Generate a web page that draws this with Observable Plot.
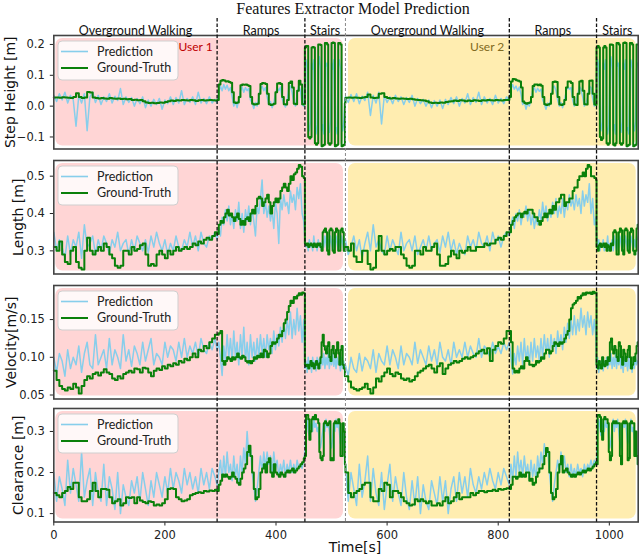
<!DOCTYPE html>
<html><head><meta charset="utf-8">
<script src="https://cdn.jsdelivr.net/npm/d3@7"></script>
<script src="https://cdn.jsdelivr.net/npm/@observablehq/plot@0.6"></script>
<style>
body{margin:0;background:#fff;}
#chart{position:relative;width:640px;height:555px;overflow:hidden;background:#fff;}
#chart svg{position:absolute;left:0;}
#title{position:absolute;top:0px;left:353px;transform:translateX(-50%);white-space:nowrap;font-family:"Liberation Serif",serif;font-size:16px;line-height:18px;color:#111;}
</style></head><body><div id="chart"><div id="title">Features Extractor Model Prediction</div></div>
<script>
// segments: walking, ramps, stairs for user 1 and user 2 (sample start time, sample spacing in s)
const segStart = [0, 294, 452, 525, 820, 977];
const segStep = [5, 3, 2, 5, 3, 2];
const sections = ["Overground Walking", "Ramps", "Stairs", "Overground Walking", "Ramps", "Stairs"];
const sectionEnd = [294, 452, 525, 820, 977, 1052];
const users = ["User 1", "User 2"];
const userStart = [0, 525];
const userEnd = [525, 1052];
const xTicks = [0, 200, 400, 600, 800, 1000];

const stepGT = [
[.028,.028,.027,.029,.028,.027,.026,.03,.042,.03,.026,.028,.046,.044,.028,.026,.025,.026,.025,.024,.026,.025,.024,.025,.023,.024,.022,.023,.02,.021,.019,.02,.016,.012,.01,.011,.009,.01,.012,.011,.013,.016,.018,.017,.019,.018,.02,.019,.018,.02,.019,.017,.019,.02,.018,.019,.02,.019,.018],
[.02,.07,.082,.085,.083,.08,.081,.078,.076,.045,.012,.01,.012,.03,.068,.07,.069,.07,.068,.065,.03,.008,.005,.006,.008,.04,.072,.075,.074,.072,.04,.006,.004,.005,.008,.045,.073,.075,.072,.03,.006,.005,.02,.075,.08,.06,.008,.006,.05,.082,.07,.006,.005],
[.19,.195,.195,-.1,-.105,-.1,.19,.192,.19,-.12,-.125,-.12,.2,.2,.198,-.13,-.128,-.125,.205,.205,.2,-.12,-.125,-.12,.205,.206,.205,-.13,-.128,-.125,.205,.205,.2,-.13,-.128,-.125,.01],
[.027,.028,.027,.028,.027,.026,.028,.03,.038,.028,.026,.027,.04,.042,.03,.026,.025,.026,.025,.024,.025,.024,.023,.024,.022,.021,.02,.019,.018,.016,.012,.01,.011,.01,.012,.011,.013,.015,.016,.018,.017,.019,.018,.016,.018,.017,.019,.018,.017,.019,.018,.02,.019,.018,.02,.019,.018,.02,.02],
[.03,.08,.088,.087,.084,.082,.08,.06,.015,.01,.008,.01,.012,.03,.065,.07,.07,.068,.07,.066,.03,.006,.004,.005,.008,.04,.078,.08,.078,.03,.005,.004,.006,.02,.06,.08,.08,.075,.03,.005,.004,.04,.08,.082,.05,.006,.005,.04,.082,.083,.04,.005,.004],
[.19,.195,.19,-.1,-.11,-.105,.19,.195,.19,-.12,-.125,-.12,.2,.2,.198,-.125,-.128,-.12,.205,.205,.2,-.12,-.125,-.12,.205,.206,.205,-.13,-.128,-.125,.205,.205,.2,-.13,-.128,-.125,.2,.2]
];
const stepPred = [
[.035,.015,.04,.02,.045,.01,.035,.02,-.065,.035,.01,.04,-.08,.03,.045,.012,.035,.005,.03,.015,.04,.01,.032,.018,.057,.005,.03,.012,.028,0,.025,.008,.03,-.005,.02,0,.022,.005,.025,-.01,.02,.008,.03,.005,.028,.01,.05,.005,.025,.012,.03,.005,.045,.01,.025,.008,.03,.01,.022],
[.01,.045,.065,.05,.07,.055,.068,.05,.06,.03,0,.015,-.005,.02,.05,.062,.045,.06,.05,.058,.02,.01,-.008,.012,0,.03,.055,.065,.05,.06,.03,.005,.015,-.005,.01,.04,.06,.05,.062,.025,.008,-.003,.015,.06,.065,.045,.01,0,.04,.068,.05,.005,0],
[.1,.15,.13,-.06,-.08,-.05,.14,.12,.15,-.07,-.09,-.06,.13,.16,.12,-.08,-.06,-.09,.15,.13,.14,-.07,-.085,-.05,.14,.12,.15,-.08,-.07,-.09,.13,.15,.12,-.06,-.08,-.05,.02],
[.03,.012,.038,.015,.04,.008,.032,.018,.045,-.03,.035,.01,.045,-.058,.035,.012,.03,.008,.035,.015,.03,.005,.028,.012,.035,0,.025,.008,.022,0,.02,-.005,.018,0,.02,-.008,.022,.005,.028,.008,.03,0,.025,.01,.04,.005,.028,.012,.045,.005,.03,.01,.025,.005,.035,.01,.025,.008,.03],
[.02,.055,.07,.055,.065,.05,.062,.04,.005,.015,-.01,.01,0,.02,.05,.06,.045,.058,.048,.055,.02,.008,-.01,.01,0,.03,.06,.065,.05,.02,0,.012,-.005,.015,.045,.065,.055,.06,.02,0,.01,.035,.065,.055,.03,0,.01,.03,.065,.06,.025,0,.008],
[.1,.15,.13,-.06,-.08,-.05,.14,.12,.15,-.07,-.09,-.06,.13,.16,.12,-.08,-.06,-.09,.15,.13,.14,-.07,-.085,-.05,.14,.12,.15,-.08,-.07,-.09,.13,.15,.12,-.06,-.08,-.05,.12,.14]
];
const lenGT = [
[.31,.3,.325,.29,.27,.265,.3,.31,.27,.255,.25,.3,.335,.3,.29,.3,.31,.3,.32,.31,.29,.28,.26,.255,.26,.3,.3,.29,.31,.3,.305,.315,.32,.29,.26,.265,.26,.29,.3,.29,.28,.3,.29,.3,.31,.3,.305,.31,.305,.31,.32,.315,.325,.32,.33,.335,.33,.34,.35],
[.345,.37,.38,.375,.39,.4,.41,.395,.4,.39,.38,.39,.4,.385,.37,.38,.37,.385,.39,.38,.4,.41,.4,.42,.44,.445,.44,.42,.43,.44,.45,.43,.4,.42,.43,.44,.43,.44,.46,.47,.48,.47,.46,.48,.5,.49,.505,.51,.52,.53,.525,.5,.495],
[.32,.315,.32,.31,.315,.32,.315,.31,.32,.315,.31,.32,.315,.32,.31,.3,.35,.355,.36,.35,.3,.29,.355,.36,.355,.3,.295,.35,.36,.355,.3,.3,.355,.36,.35,.3,.3],
[.31,.3,.32,.285,.27,.27,.3,.3,.265,.25,.255,.3,.34,.3,.29,.3,.305,.3,.31,.31,.29,.28,.26,.255,.26,.3,.3,.29,.31,.3,.3,.31,.32,.29,.26,.26,.265,.285,.3,.29,.28,.3,.295,.3,.31,.3,.3,.31,.31,.31,.32,.315,.32,.32,.33,.335,.33,.34,.35],
[.35,.37,.38,.39,.395,.4,.4,.39,.4,.405,.4,.41,.41,.41,.4,.39,.39,.38,.37,.38,.39,.4,.39,.4,.41,.4,.42,.41,.43,.43,.44,.45,.45,.42,.43,.43,.44,.44,.46,.47,.47,.49,.5,.5,.51,.5,.52,.53,.525,.5,.5,.495,.49],
[.31,.3,.315,.32,.31,.315,.32,.31,.32,.3,.315,.31,.3,.32,.315,.35,.355,.35,.29,.29,.35,.36,.355,.3,.29,.355,.36,.355,.3,.295,.35,.36,.355,.3,.29,.3,.36,.37]
];
const lenPred = [
[.35,.3,.33,.31,.28,.34,.29,.33,.31,.35,.28,.37,.31,.32,.34,.29,.33,.3,.34,.32,.29,.33,.31,.35,.3,.32,.33,.29,.33,.3,.34,.32,.3,.33,.295,.34,.31,.35,.32,.3,.33,.29,.32,.3,.34,.31,.3,.33,.31,.35,.31,.34,.3,.35,.32,.31,.34,.33,.35],
[.33,.36,.34,.39,.37,.41,.38,.42,.37,.4,.36,.41,.38,.43,.36,.4,.35,.41,.38,.42,.37,.41,.38,.34,.42,.4,.44,.49,.4,.43,.39,.42,.38,.41,.36,.43,.4,.32,.44,.41,.45,.42,.43,.4,.46,.43,.45,.41,.47,.44,.48,.4,.38],
[.33,.31,.32,.3,.33,.31,.32,.3,.34,.31,.32,.3,.33,.31,.32,.3,.33,.31,.34,.32,.3,.33,.31,.34,.32,.3,.33,.31,.34,.32,.3,.33,.31,.34,.32,.3,.33],
[.33,.29,.31,.34,.3,.33,.28,.32,.35,.3,.37,.31,.33,.3,.29,.34,.3,.33,.31,.29,.35,.3,.32,.33,.3,.34,.29,.31,.33,.3,.34,.3,.32,.33,.295,.34,.31,.35,.3,.33,.29,.32,.3,.29,.34,.31,.33,.3,.35,.32,.31,.34,.3,.35,.32,.34,.31,.34,.35],
[.34,.37,.39,.36,.4,.38,.41,.37,.4,.39,.42,.38,.41,.37,.4,.36,.39,.37,.41,.38,.43,.39,.42,.38,.41,.39,.43,.4,.44,.39,.42,.4,.44,.39,.43,.41,.45,.42,.44,.41,.45,.42,.44,.4,.46,.42,.45,.43,.48,.4,.44,.37,.39],
[.34,.31,.33,.3,.32,.31,.33,.3,.32,.31,.34,.3,.32,.31,.33,.3,.34,.32,.3,.33,.31,.34,.32,.3,.33,.31,.34,.32,.3,.33,.31,.34,.32,.3,.33,.31,.34,.33]
];
const velGT = [
[.082,.07,.062,.058,.056,.06,.058,.065,.06,.052,.062,.07,.075,.072,.078,.08,.076,.08,.084,.08,.078,.072,.07,.075,.072,.078,.08,.082,.08,.085,.084,.08,.086,.085,.08,.075,.082,.085,.083,.088,.085,.09,.088,.092,.09,.095,.093,.098,.096,.1,.105,.1,.11,.108,.115,.112,.12,.125,.13],
[.13,.132,.135,.095,.09,.095,.1,.098,.095,.1,.097,.1,.105,.1,.098,.102,.1,.095,.093,.095,.092,.095,.1,.098,.102,.1,.105,.1,.11,.108,.1,.105,.115,.12,.118,.12,.125,.13,.128,.135,.145,.15,.16,.168,.175,.172,.18,.178,.182,.185,.183,.186,.185],
[.09,.088,.09,.085,.09,.095,.088,.092,.085,.09,.095,.09,.085,.092,.1,.12,.13,.115,.11,.105,.115,.12,.1,.095,.11,.115,.105,.1,.11,.12,.105,.09,.11,.115,.09,.085,.075],
[.075,.068,.06,.058,.056,.058,.06,.065,.058,.052,.06,.072,.068,.075,.08,.085,.078,.075,.08,.078,.072,.07,.072,.068,.07,.075,.08,.082,.085,.088,.09,.085,.08,.088,.092,.078,.085,.09,.092,.095,.093,.095,.098,.1,.098,.1,.102,.105,.108,.11,.105,.112,.095,.11,.115,.12,.118,.125,.135],
[.135,.12,.085,.08,.082,.08,.085,.088,.085,.095,.1,.095,.09,.09,.088,.09,.095,.093,.095,.1,.098,.105,.11,.11,.105,.108,.115,.12,.118,.115,.12,.118,.12,.125,.13,.135,.15,.165,.17,.172,.175,.18,.178,.182,.185,.183,.186,.185,.186,.184,.187,.185,.186],
[.09,.085,.095,.09,.085,.1,.09,.088,.095,.09,.1,.095,.12,.125,.11,.105,.115,.11,.1,.095,.12,.115,.1,.09,.11,.105,.095,.1,.11,.115,.1,.085,.09,.1,.095,.105,.115,.12]
];
const velPred = [
[.1,.08,.105,.095,.075,.11,.085,.1,.09,.115,.08,.105,.12,.09,.085,.13,.09,.1,.11,.085,.125,.09,.11,.1,.085,.13,.095,.11,.088,.115,.105,.09,.12,.095,.11,.125,.09,.105,.1,.09,.12,.1,.115,.11,.095,.12,.1,.125,.1,.115,.105,.12,.1,.125,.11,.105,.12,.11,.125],
[.11,.12,.1,.076,.115,.095,.13,.1,.125,.095,.135,.1,.12,.09,.13,.1,.14,.095,.12,.09,.13,.1,.12,.095,.125,.1,.13,.105,.125,.1,.13,.11,.125,.105,.135,.11,.13,.115,.14,.12,.145,.125,.15,.13,.16,.125,.15,.13,.165,.135,.155,.12,.15],
[.085,.095,.08,.1,.085,.095,.08,.1,.088,.095,.082,.1,.09,.098,.085,.1,.09,.105,.085,.1,.09,.105,.085,.1,.09,.105,.088,.1,.085,.1,.09,.095,.082,.1,.085,.095,.08],
[.09,.075,.1,.085,.08,.105,.082,.1,.095,.085,.11,.08,.105,.095,.09,.115,.09,.11,.1,.085,.115,.09,.105,.1,.09,.12,.092,.11,.1,.09,.115,.095,.11,.09,.12,.1,.095,.11,.09,.12,.1,.11,.1,.12,.1,.115,.105,.1,.125,.1,.115,.11,.1,.12,.105,.115,.105,.12,.11],
[.12,.1,.078,.105,.09,.115,.095,.12,.09,.125,.095,.115,.09,.12,.095,.125,.1,.115,.095,.125,.1,.13,.105,.125,.1,.13,.11,.125,.105,.135,.115,.13,.11,.14,.12,.145,.125,.15,.13,.155,.13,.15,.135,.165,.14,.155,.13,.16,.14,.155,.13,.15,.125],
[.085,.1,.08,.095,.085,.1,.082,.095,.088,.1,.085,.095,.09,.105,.085,.1,.088,.105,.085,.1,.09,.105,.085,.095,.08,.1,.088,.095,.082,.1,.085,.095,.08,.095,.085,.1,.09,.095]
];
const clrGT = [
[.15,.145,.14,.15,.155,.165,.16,.175,.175,.14,.13,.13,.135,.155,.175,.155,.14,.16,.16,.158,.14,.125,.13,.135,.12,.125,.14,.138,.14,.125,.14,.132,.128,.125,.13,.128,.12,.122,.12,.125,.135,.16,.162,.16,.14,.135,.13,.132,.135,.145,.148,.15,.152,.15,.155,.154,.156,.155,.158],
[.155,.17,.18,.195,.19,.195,.19,.185,.19,.2,.19,.185,.175,.17,.185,.2,.21,.22,.25,.265,.24,.2,.16,.135,.14,.16,.2,.21,.22,.2,.225,.235,.2,.19,.22,.2,.195,.19,.2,.195,.19,.2,.205,.2,.205,.21,.2,.205,.21,.215,.22,.225,.235],
[.24,.34,.34,.33,.28,.3,.33,.335,.33,.34,.33,.33,.32,.25,.235,.23,.24,.32,.325,.32,.315,.32,.325,.23,.235,.23,.32,.325,.32,.32,.33,.32,.24,.24,.32,.3,.22],
[.2,.15,.14,.15,.155,.16,.17,.175,.175,.14,.13,.13,.16,.155,.175,.17,.14,.155,.155,.15,.14,.13,.125,.12,.122,.135,.13,.135,.13,.125,.13,.12,.12,.125,.12,.13,.14,.125,.13,.14,.15,.135,.14,.14,.14,.15,.145,.15,.155,.155,.152,.155,.155,.158,.155,.16,.158,.16,.162],
[.16,.17,.19,.19,.185,.19,.2,.19,.195,.19,.2,.2,.18,.185,.17,.175,.19,.2,.21,.21,.22,.24,.26,.25,.2,.15,.135,.14,.16,.2,.22,.24,.2,.205,.21,.2,.195,.19,.195,.19,.195,.2,.195,.2,.205,.2,.205,.21,.205,.21,.215,.22,.225],
[.22,.34,.34,.335,.3,.28,.33,.335,.33,.33,.32,.25,.23,.24,.32,.325,.32,.325,.32,.32,.32,.24,.22,.32,.325,.32,.325,.32,.23,.235,.32,.325,.32,.32,.24,.3,.24,.22]
];
const clrPred = [
[.2,.13,.19,.16,.12,.23,.15,.21,.17,.13,.25,.14,.18,.21,.12,.2,.15,.13,.22,.12,.19,.16,.11,.2,.1,.17,.14,.12,.18,.15,.19,.13,.2,.16,.12,.18,.14,.2,.17,.14,.19,.15,.21,.16,.2,.18,.15,.21,.17,.2,.16,.19,.15,.21,.17,.2,.16,.21,.19],
[.17,.2,.23,.18,.24,.19,.25,.2,.22,.18,.24,.19,.22,.17,.24,.2,.26,.22,.3,.24,.26,.2,.17,.13,.16,.2,.24,.2,.25,.21,.25,.22,.24,.2,.25,.21,.23,.19,.22,.2,.23,.19,.22,.2,.23,.2,.22,.2,.23,.21,.22,.21,.23],
[.25,.31,.33,.3,.29,.31,.32,.3,.33,.31,.32,.3,.31,.27,.26,.28,.3,.32,.3,.33,.31,.32,.3,.27,.26,.29,.32,.3,.33,.31,.32,.3,.27,.29,.31,.28,.22],
[.22,.13,.2,.16,.12,.22,.14,.18,.24,.13,.21,.15,.12,.2,.11,.17,.22,.13,.19,.15,.12,.2,.14,.11,.18,.12,.19,.1,.17,.13,.11,.18,.15,.12,.19,.13,.18,.1,.16,.19,.13,.2,.15,.19,.14,.21,.17,.15,.19,.16,.2,.17,.21,.18,.16,.2,.17,.21,.19],
[.17,.22,.18,.24,.19,.25,.2,.23,.19,.24,.2,.22,.18,.23,.19,.22,.18,.24,.2,.25,.22,.27,.24,.26,.2,.16,.13,.17,.2,.23,.2,.25,.21,.24,.2,.22,.19,.22,.19,.21,.19,.22,.2,.21,.19,.22,.2,.22,.21,.23,.21,.23,.22],
[.23,.3,.33,.31,.29,.3,.32,.3,.33,.31,.32,.27,.26,.28,.31,.33,.3,.32,.31,.33,.3,.27,.26,.3,.32,.31,.33,.3,.27,.28,.31,.33,.3,.31,.28,.3,.26,.23]
];

function rows(segs) {
  const out = [];
  segs.forEach((vals, k) => vals.forEach((v, i) => out.push({t: segStart[k] + i * segStep[k], v})));
  return out;
}

const W = 640, ML = 53.3, MR = 2.3, FH = 113.5;
const panels = [
  {label: "Step Height [m]", pred: stepPred, gt: stepGT, domain: [-0.139, 0.229], ticks: [-0.1, 0, 0.1, 0.2], fmt: ".1f", top: 35, lx: 10},
  {label: "Length [m]", pred: lenPred, gt: lenGT, domain: [0.238, 0.542], ticks: [0.3, 0.4, 0.5], fmt: ".1f", top: 160, lx: 18},
  {label: "Velocity[m/s]", pred: velPred, gt: velGT, domain: [0.0447, 0.1952], ticks: [0.05, 0.10, 0.15], fmt: ".2f", top: 285, lx: 11},
  {label: "Clearance [m]", pred: clrPred, gt: clrGT, domain: [0.0796, 0.3559], ticks: [0.1, 0.2, 0.3], fmt: ".1f", top: 408, lx: 18}
];

const chart = document.getElementById("chart");
const font = "DejaVu Sans, sans-serif";
const lfont = "Lato, 'Open Sans', sans-serif";

panels.forEach((p, pi) => {
  const last = pi === panels.length - 1;
  const mt = 2, mb = last ? 34 : 2;
  const marks = [
    Plot.rect([users[0]], {x1: () => userStart[0], x2: () => userEnd[0], fill: "#ffd5d5", insetLeft: 2, insetRight: 2, insetTop: 3, insetBottom: 3, rx: 7}),
    Plot.rect([users[1]], {x1: () => userStart[1], x2: () => userEnd[1], fill: "#ffedb0", insetLeft: 3, insetRight: 2, insetTop: 3, insetBottom: 3, rx: 7}),
    Plot.line(rows(p.pred), {x: "t", y: "v", stroke: "#87ceeb", strokeWidth: 1.5}),
    Plot.line(rows(p.gt), {x: "t", y: "v", curve: "step-after", stroke: "#0a800a", strokeWidth: 2}),
    Plot.frame({stroke: "#444", strokeWidth: 1.6}),
    Plot.text([p.label], {frameAnchor: "left", dx: p.lx - ML, rotate: -90, textAnchor: "middle", lineAnchor: "middle", fontSize: 14, fill: "#111"})
  ];
  if (pi === 0) {
    marks.push(Plot.text([users[0]], {x: () => sectionEnd[0], frameAnchor: "top", dy: 12, dx: -4.5, textAnchor: "end", lineAnchor: "middle", fill: "#c00000", fontFamily: lfont, fontSize: 12}));
    marks.push(Plot.text([users[1]], {x: () => sectionEnd[3], frameAnchor: "top", dy: 12, dx: -5, textAnchor: "end", lineAnchor: "middle", fill: "#7f6a20", fontFamily: lfont, fontSize: 12}));
  }
  if (last) {
    marks.push(Plot.text(["Time[s]"], {frameAnchor: "bottom", dy: 25.5, dx: 9, lineAnchor: "middle", fontSize: 14, fill: "#111"}));
  }
  const svg = Plot.plot({
    width: W, height: FH + mt + mb,
    marginLeft: ML, marginRight: MR, marginTop: mt, marginBottom: mb,
    style: {background: "transparent", fontFamily: font, fontSize: "11.5px", color: "#222", overflow: "visible"},
    x: last ? {domain: [0, 1052], ticks: xTicks, tickFormat: "d", tickSize: 4, label: null} : {domain: [0, 1052], axis: null},
    y: {domain: p.domain, ticks: p.ticks, tickFormat: p.fmt, tickSize: 3.5, label: null},
    marks
  });
  svg.style.position = "absolute";
  svg.style.top = (p.top - mt) + "px";
  svg.style.left = "0px";
  chart.appendChild(svg);

  // legend box
  const lg = document.createElementNS("http://www.w3.org/2000/svg", "svg");
  lg.setAttribute("width", 126); lg.setAttribute("height", 46);
  lg.style.position = "absolute"; lg.style.left = "56px"; lg.style.top = (p.top + 4) + "px";
  lg.innerHTML =
    `<rect x="2" y="2" width="120" height="39" rx="4" fill="white" fill-opacity="0.82" stroke="#cfcfcf" stroke-width="1"/>` +
    `<line x1="5" x2="32" y1="12.5" y2="12.5" stroke="#87ceeb" stroke-width="1.6"/>` +
    `<line x1="5" x2="32" y1="29" y2="29" stroke="#0a800a" stroke-width="2"/>` +
    `<text x="41" y="12.5" dy="0.35em" font-family="Lato, 'Open Sans', sans-serif" font-size="12.5" fill="#222">Prediction</text>` +
    `<text x="41" y="29" dy="0.35em" font-family="Lato, 'Open Sans', sans-serif" font-size="12.5" fill="#222">Ground-Truth</text>`;
  chart.appendChild(lg);
});

// overlay: section dividers and section names
const secStart = [0].concat(sectionEnd.slice(0, -1));
const overlay = Plot.plot({
  width: W, height: 555,
  marginLeft: ML, marginRight: MR, marginTop: 18, marginBottom: 555 - 521.7,
  style: {background: "transparent", overflow: "visible"},
  x: {domain: [0, 1052], axis: null},
  marks: [
    Plot.ruleX([sectionEnd[0], sectionEnd[1], sectionEnd[3], sectionEnd[4]], {stroke: "#111", strokeWidth: 1.3, strokeDasharray: "3.5,2"}),
    Plot.ruleX([sectionEnd[2]], {stroke: "#888", strokeWidth: 1, strokeDasharray: "3,2"}),
    Plot.text(sections, {x: (d, i) => (secStart[i] + sectionEnd[i]) / 2, frameAnchor: "top", dy: 12, lineAnchor: "middle", fontFamily: lfont, fontSize: 12.5, fill: "#111"})
  ]
});
overlay.style.position = "absolute"; overlay.style.top = "0px"; overlay.style.left = "0px";
chart.appendChild(overlay);
</script></body></html>
